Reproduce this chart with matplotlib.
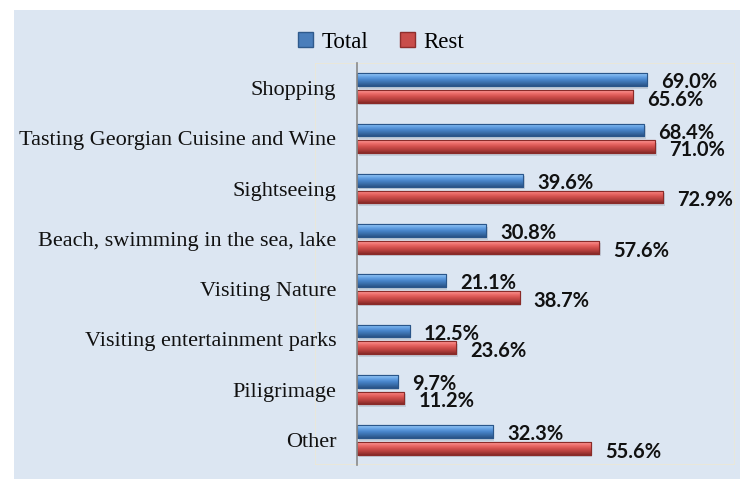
import matplotlib
matplotlib.use("Agg")
import matplotlib.pyplot as plt
import numpy as np
from matplotlib.patches import Rectangle, Patch
from matplotlib.colors import LinearSegmentedColormap

categories = ["Shopping", "Tasting Georgian Cuisine and Wine", "Sightseeing",
              "Beach, swimming in the sea, lake", "Visiting Nature",
              "Visiting entertainment parks", "Piligrimage", "Other"]
total = [69.0, 68.4, 39.6, 30.8, 21.1, 12.5, 9.7, 32.3]
rest = [65.6, 71.0, 72.9, 57.6, 38.7, 23.6, 11.2, 55.6]
series_names = ["Total", "Rest"]

BG = "#dce6f2"
serif = "Liberation Serif"
label_font = "Lato"

fig = plt.figure(figsize=(7.40, 4.79), dpi=100)
fig.patch.set_facecolor("white")
fig.patches.append(Rectangle((14/740, 0), 1, 1 - 10/479, transform=fig.transFigure,
                             facecolor=BG, edgecolor="none", zorder=-5))

ax = fig.add_axes([315/740, 1 - 465/479, (735-315)/740, (465-63)/479])
ax.set_facecolor(BG)
ax.add_patch(Rectangle((0, 0), 1, 1, transform=ax.transAxes, fill=False,
                       edgecolor="#ece8d6", linewidth=1.2, zorder=0.5))

y = list(range(len(categories)))
h = 0.255
off = 0.165

specs = [
    (total, -off, "#4a7ebb", "#2a568a",
     ["#9ccbf7", "#6aa6e6", "#4a86cc", "#3a6eaa", "#2a5286"]),
    (rest, off, "#c94d4a", "#8a2b29",
     ["#fb9c9a", "#ee6e6b", "#d3504d", "#b23e3c", "#872a28"]),
]
grad = np.linspace(0, 1, 64).reshape(-1, 1)
for vals, o, main, dark, stops in specs:
    cmap = LinearSegmentedColormap.from_list("g", stops)
    yy = [v + o for v in y]
    ax.barh([v + 0.05 for v in yy], vals, height=h, left=0.4, color="#aab6c4",
            alpha=0.5, zorder=1.5)
    bars = ax.barh(yy, vals, height=h, color=main, edgecolor=dark, linewidth=0.8, zorder=2)
    for r in bars:
        x0, y0 = r.get_x(), r.get_y()
        w, hh = r.get_width(), r.get_height()
        im = ax.imshow(grad, cmap=cmap, aspect="auto", origin="upper",
                       extent=[x0, x0 + w, y0 + hh, y0], zorder=2.5,
                       interpolation="bilinear")
        im.set_clip_path(r)
    ax.barh(yy, vals, height=h, color="none", edgecolor=dark, linewidth=0.8, zorder=3)

for i in y:
    ax.text(total[i] + 3.4, i - off + 0.05, f"{total[i]:.1f}%", ha="left", va="center",
            fontsize=14.5, fontweight="bold", family=label_font, color="#111111", zorder=5)
    ax.text(rest[i] + 3.4, i + off + 0.07, f"{rest[i]:.1f}%", ha="left", va="center",
            fontsize=14.5, fontweight="bold", family=label_font, color="#111111", zorder=5)

ax.set_xlim(-10, 90)
ax.set_ylim(len(categories) - 0.5, -0.5)
for s in ["top", "right", "bottom"]:
    ax.spines[s].set_visible(False)
ax.spines["left"].set_position(("data", 0))
ax.spines["left"].set_color("#8a8a8a")
ax.spines["left"].set_linewidth(1.2)
ax.spines["left"].set_zorder(4)
ax.set_xticks([])
ax.set_yticks(y)
ax.set_yticklabels(categories, family=serif, fontsize=16, color="#111111")
ax.tick_params(axis="y", length=0, pad=15)

handles = [Patch(facecolor="#4a7ebb", edgecolor="#2f5a8c"),
           Patch(facecolor="#c94d4a", edgecolor="#8f2e2c")]
fig.legend(handles, series_names, loc="center", bbox_to_anchor=(381/740, 1 - 42/479),
           ncol=2, frameon=False, prop={"family": serif, "size": 16.5},
           handlelength=0.65, handleheight=0.65, handletextpad=0.35, columnspacing=1.4)

fig.savefig("out.png", dpi=100, facecolor="white")
